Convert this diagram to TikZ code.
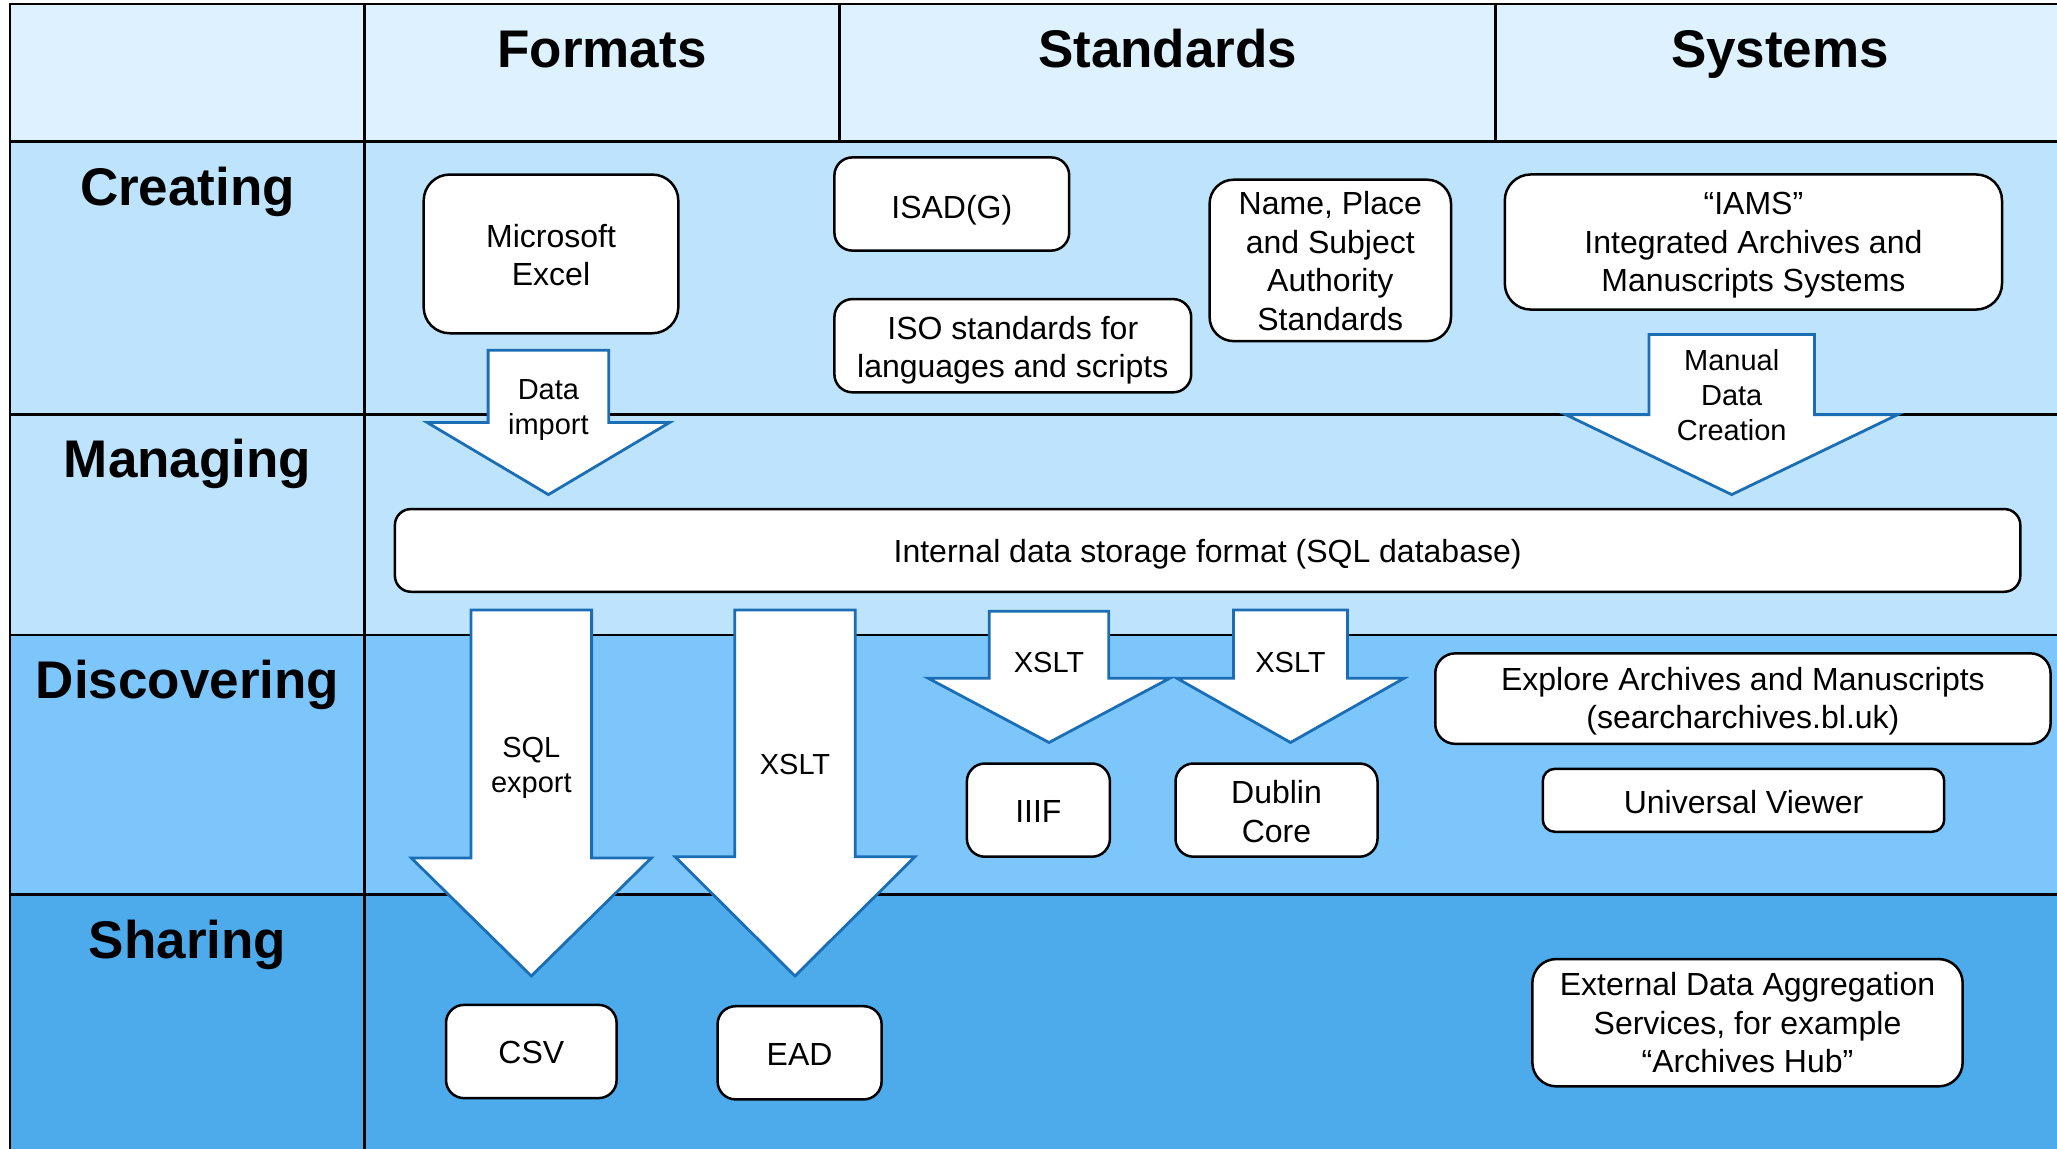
\documentclass[tikz,border=0pt]{standalone}
\usepackage{fontspec}
\setmainfont{Liberation Sans}
\definecolor{hdrbg}{RGB}{222,241,254}
\definecolor{row1bg}{RGB}{189,228,252}
\definecolor{row3bg}{RGB}{125,198,252}
\definecolor{row4bg}{RGB}{77,170,235}
\definecolor{arrblue}{RGB}{28,110,180}
\newcommand\boxfont{\fontsize{32}{38.5}\selectfont}
\newcommand\arrfont{\fontsize{29}{35}\selectfont}
\newcommand\headfont{\fontsize{53}{60}\selectfont\bfseries}
\tikzset{
  gridline/.style={line width=2.5pt, black},
  box/.style={draw=black, line width=2.5pt, fill=white, rounded corners=16pt,
    inner sep=0pt, outer sep=0pt},
  boxtext/.style={align=center, font=\boxfont, inner sep=0pt},
  blockarrow/.style={draw=arrblue, line width=2.8pt, fill=white, line join=miter},
  arrowlabel/.style={align=center, font=\arrfont, inner sep=0pt},
  headlabel/.style={font=\headfont, inner sep=0pt, anchor=base}
}
% \bx{name}{cx}{cy}{width}{height}{radius}{text shift down}{text}
\newcommand\bx[8]{%
  \node[box, rounded corners=#6pt, minimum width=#4pt, minimum height=#5pt] (#1) at (#2,#3) {};
  \node[boxtext] (#1-text) at ([yshift=-#7pt]#1.center) {#8};
}
\newcommand\blockarr[9]{%
  \draw[blockarrow] (#2-#3,#4) -- (#2+#3,#4) -- (#2+#3,#5) -- (#2+#6,#5) -- (#2,#7)
    -- (#2-#6,#5) -- (#2-#3,#5) -- cycle;
  \node[arrowlabel] (#1) at (#2,#9) {#8};
}
\begin{document}
\begin{tikzpicture}[x=1pt,y=-1pt]
\useasboundingbox (0,0) rectangle (2057,1149);
% backgrounds
\fill[white] (0,0) rectangle (2057,1149);
\fill[hdrbg] (10,4) rectangle (2057,141.7);
\fill[row1bg] (10,141.7) rectangle (2057,635);
\fill[row3bg] (10,635) rectangle (2057,894.7);
\fill[row4bg] (10,894.7) rectangle (2057,1149);
% grid
\draw[gridline] (10,1149) -- (10,4) -- (2057,4);
\draw[gridline] (364.7,4) -- (364.7,1149);
\draw[gridline] (839.6,4) -- (839.6,141.7);
\draw[gridline] (1495.6,4) -- (1495.6,141.7);
\foreach \yy in {141.7,414.6,635,894.7} \draw[gridline] (10,\yy) -- (2057,\yy);
% headers
\node[headlabel] (hformats) at (602,67.5) {Formats};
\node[headlabel] (hstandards) at (1167.6,67.5) {Standards};
\node[headlabel] (hsystems) at (1780,67.5) {Systems};
\node[headlabel] (rcreating) at (187.6,205.5) {Creating};
\node[headlabel] (rmanaging) at (187.6,477.5) {Managing};
\node[headlabel] (rdiscovering) at (187.6,698) {Discovering};
\node[headlabel] (rsharing) at (187.6,958) {Sharing};
% arrows
\blockarr{aimport}{548.4}{60.3}{350.3}{422.4}{121.4}{494.6}{Data\\import}{410}
\blockarr{amanual}{1731.7}{82.7}{334.5}{414.6}{166}{494.6}{Manual\\Data\\Creation}{395}
\blockarr{asql}{531.3}{60.3}{610}{858}{120}{976}{SQL\\export}{768}
\blockarr{axslta}{795}{60.3}{610}{856.7}{120}{976}{XSLT}{765}
\blockarr{axsltb}{1049}{59.7}{611.3}{678.3}{120.7}{742.5}{XSLT}{662.3}
\blockarr{axsltc}{1290.5}{57}{610}{678.3}{113.5}{742.5}{XSLT}{662.3}
% boxes
\bx{excel}{551}{253.9}{254.6}{158.7}{26}{1.3}{Microsoft\\Excel}
\bx{isad}{951.8}{204}{234.8}{93.2}{18}{6.5}{ISAD(G)}
\bx{iso}{1012.8}{345.7}{356.8}{93.2}{18}{4.5}{ISO standards for\\languages and scripts}
\bx{names}{1330.3}{260.4}{241.4}{161.4}{24}{0.7}{Name, Place\\and Subject\\Authority\\Standards}
\bx{iams}{1753.4}{242}{497.2}{135.1}{26}{3.3}{“IAMS”\\Integrated Archives and\\Manuscripts Systems}
\bx{internal}{1207.6}{550.4}{1625.4}{82.7}{16}{4}{Internal data storage format (SQL database)}
\bx{explore}{1742.9}{698.6}{615.3}{90.5}{20}{2.6}{Explore Archives and Manuscripts\\(searcharchives.bl.uk)}
\bx{uv}{1743.5}{800.3}{401.4}{62.9}{12}{1.3}{Universal Viewer}
\bx{iiif}{1038.4}{810.1}{143}{93.2}{18}{1.3}{IIIF}
\bx{dc}{1276.5}{810.1}{202}{93.2}{18}{1.3}{Dublin\\Core}
\bx{csv}{531.3}{1051.5}{170.6}{93.2}{18}{1.3}{CSV}
\bx{ead}{799.6}{1052.8}{164}{93.2}{18}{1.3}{EAD}
\bx{ext}{1747.5}{1022.7}{430.3}{127.3}{24}{0}{External Data Aggregation\\Services, for example\\“Archives Hub”}
\end{tikzpicture}
\end{document}
